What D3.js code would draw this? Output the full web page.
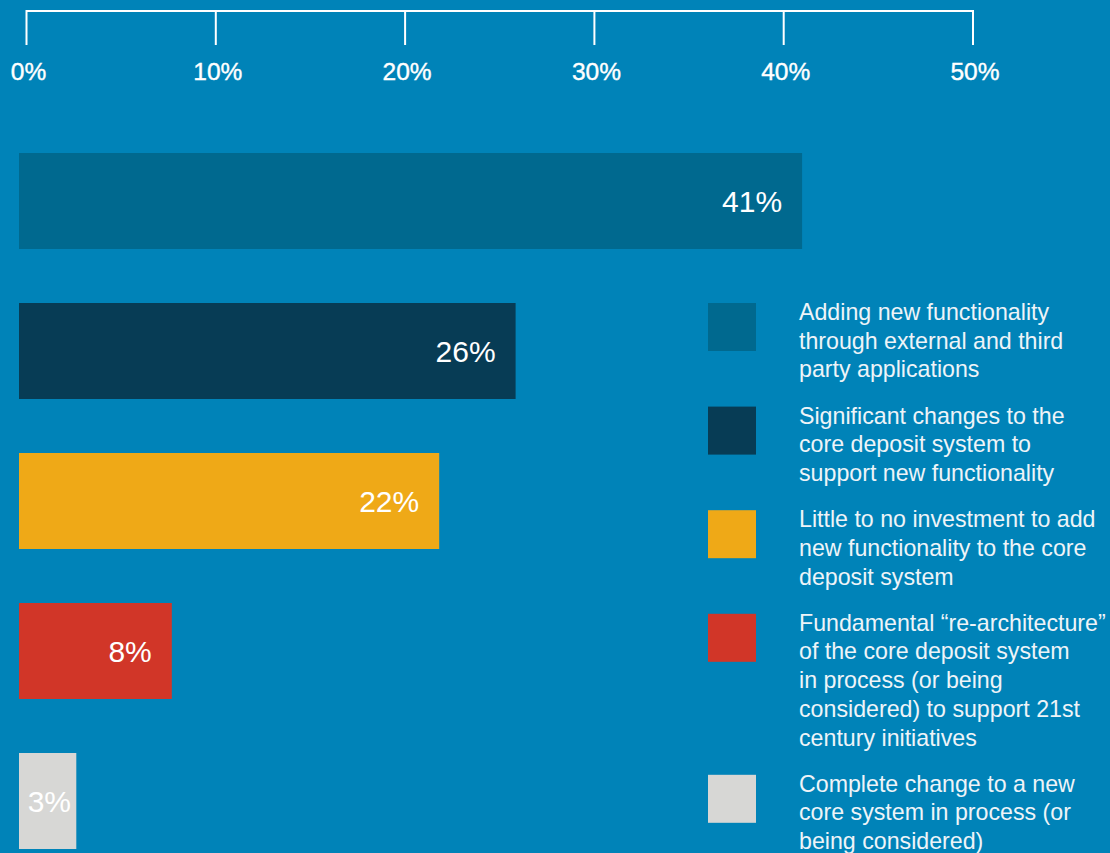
<!DOCTYPE html>
<html>
<head>
<meta charset="utf-8">
<script src="https://cdn.jsdelivr.net/npm/d3@7"></script>
<style>
  html, body { margin: 0; padding: 0; background: #0083b8; }
  svg { display: block; }
  text { font-family: "Liberation Sans", Arial, sans-serif; fill: #ffffff; }
</style>
</head>
<body>
<div id="chart"></div>
<script>
// chart data
const categories = [
  ["Adding new functionality", "through external and third", "party applications"],
  ["Significant changes to the", "core deposit system to", "support new functionality"],
  ["Little to no investment to add", "new functionality to the core", "deposit system"],
  ["Fundamental \u201cre-architecture\u201d", "of the core deposit system", "in process (or being", "considered) to support 21st", "century initiatives"],
  ["Complete change to a new", "core system in process (or", "being considered)"]
];
const values = [41, 26, 22, 8, 3];
const colors = ["#00698f", "#073c55", "#efa917", "#d13628", "#d7d7d5"];
const tickValues = [0, 10, 20, 30, 40, 50];

const svgWidth = 1110;
const svgHeight = 853;

let svg = d3.select("#chart")
  .append("svg")
  .attr("width", svgWidth)
  .attr("height", svgHeight);

// axis on top
let axisScale = d3.scaleLinear().domain([0, 50]).range([26.5, 973]);

let axisGroup = svg.append("g");

axisGroup.append("line")
  .attr("x1", axisScale(0))
  .attr("x2", axisScale(50))
  .attr("y1", 11)
  .attr("y2", 11)
  .style("stroke", "#ffffff")
  .style("stroke-width", 2);

axisGroup.selectAll(".tick-line")
  .data(tickValues)
  .enter().append("line")
  .attr("class", "tick-line")
  .attr("x1", d => axisScale(d))
  .attr("x2", d => axisScale(d))
  .attr("y1", 10)
  .attr("y2", 45)
  .style("stroke", "#ffffff")
  .style("stroke-width", 2);

axisGroup.selectAll(".tick-label")
  .data(tickValues)
  .enter().append("text")
  .attr("class", "tick-label")
  .attr("x", d => axisScale(d) + 2)
  .attr("y", 80)
  .style("text-anchor", "middle")
  .style("font-size", "24.5px")
  .style("stroke", "#ffffff")
  .style("stroke-width", 0.4)
  .text(d => d + "%");

// bars
let x = d3.scaleLinear().domain([0, 50]).range([19, 974]);
let y = d3.scaleBand()
  .domain(d3.range(values.length))
  .range([153, 849])
  .paddingInner(0.36)
  .paddingOuter(0);

let barGroup = svg.append("g");

barGroup.selectAll("rect")
  .data(values)
  .enter().append("rect")
  .attr("x", x(0))
  .attr("y", (d, i) => y(i))
  .attr("width", d => x(d) - x(0))
  .attr("height", y.bandwidth())
  .style("fill", (d, i) => colors[i]);

barGroup.selectAll(".bar-label")
  .data(values)
  .enter().append("text")
  .attr("class", "bar-label")
  .attr("x", d => Math.max(x(d) - 20, x(0) + 52))
  .attr("y", (d, i) => y(i) + y.bandwidth() / 2)
  .attr("dy", "0.36em")
  .style("text-anchor", "end")
  .style("font-size", "30px")
  .text(d => d + "%");

// legend
const lineHeight = 28.7;
let legendTops = [];
let legendY = 303;
categories.forEach(function (lines) {
  legendTops.push(legendY);
  legendY += lines.length * lineHeight + 17.5;
});

let legendGroup = svg.append("g").attr("class", "legend");

let items = legendGroup.selectAll(".legend-item")
  .data(categories)
  .enter().append("g")
  .attr("class", "legend-item")
  .attr("transform", (d, i) => `translate(708, ${legendTops[i]})`);

items.append("rect")
  .attr("width", 48)
  .attr("height", 48)
  .style("fill", (d, i) => colors[i]);

items.append("text")
  .attr("x", 91)
  .attr("y", 17)
  .style("font-size", "23.2px")
  .style("fill", "#eef4f8")
  .selectAll("tspan")
  .data(d => d)
  .enter().append("tspan")
  .attr("x", 91)
  .attr("dy", (d, i) => i === 0 ? 0 : lineHeight)
  .text(d => d);
</script>
</body>
</html>
